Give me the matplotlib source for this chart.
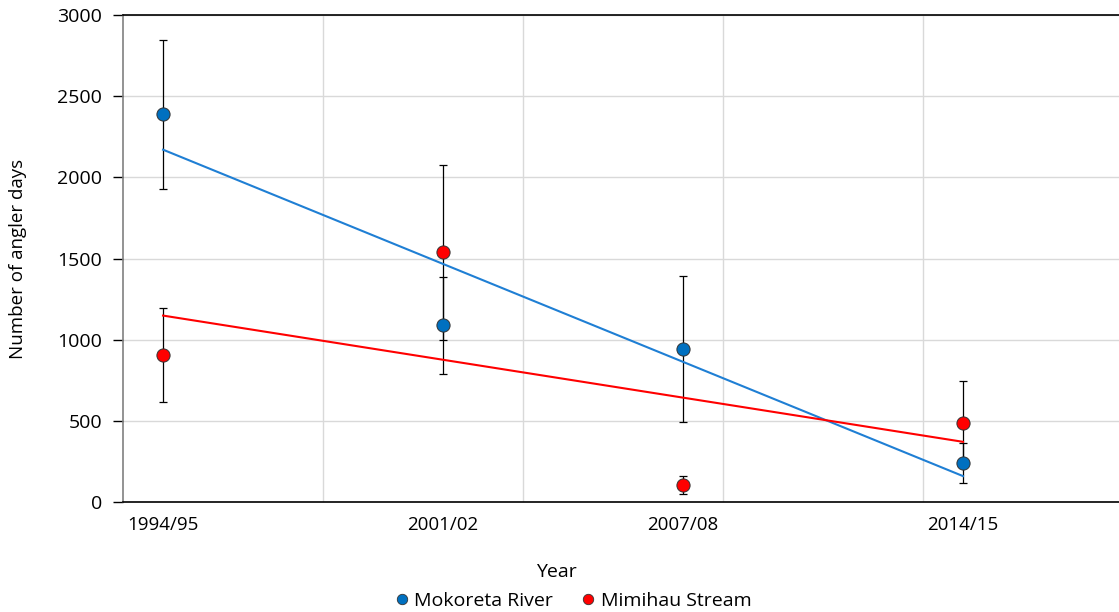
import numpy as np
import matplotlib
matplotlib.use('Agg')
import matplotlib.pyplot as plt
from matplotlib.lines import Line2D

years = [1994, 2001, 2007, 2014]
year_labels = ['1994/95', '2001/02', '2007/08', '2014/15']

mokoreta = [2390, 1088, 942, 240]
mokoreta_err = [460, 300, 450, 123]
mimihau = [905, 1540, 105, 487]
mimihau_err = [290, 540, 55, 260]

blue = '#0070C0'
red = '#FF0000'
narrow = ['Liberation Sans Narrow', 'Open Sans', 'DejaVu Sans']

fig = plt.figure(figsize=(11.19, 6.12), dpi=100)
ax = fig.add_axes([0.110, 0.180, 0.890, 0.795])

x = np.array(years)

# trend lines (least squares, like Excel's linear trendline)
for vals, col in [(mokoreta, '#1F7FD4'), (mimihau, red)]:
    k, b = np.polyfit(x, vals, 1)
    ax.plot(x[[0, -1]], k * x[[0, -1]] + b, color=col, lw=1.5, zorder=3)

for vals, err, col in [(mokoreta, mokoreta_err, blue), (mimihau, mimihau_err, red)]:
    ax.errorbar(x, vals, yerr=err, fmt='none', ecolor='black', elinewidth=0.9,
                capsize=3, capthick=0.9, zorder=2)
    ax.plot(x, vals, 'o', color=col, markersize=9.5, markeredgecolor='#333333',
            markeredgewidth=0.7, zorder=4)

ax.set_xlim(1993, 2017.9)
ax.set_ylim(0, 3000)
ax.set_yticks(range(0, 3001, 500))
ax.set_xticks(years)
ax.set_xticklabels(year_labels, fontsize=13.5, family=narrow)
ax.set_xticks([1998, 2003, 2008, 2013], minor=True)
ax.tick_params(axis='x', which='both', length=0, pad=10)
ax.tick_params(axis='y', length=7, width=1, color='black', labelsize=14, pad=8)
for t in ax.get_yticklabels():
    t.set_family(['Open Sans', 'DejaVu Sans'])

ax.grid(axis='y', color='#d9d9d9', lw=1)
ax.grid(axis='x', which='minor', color='#d9d9d9', lw=1)
ax.grid(axis='x', which='major', visible=False)
ax.set_axisbelow(True)

ax.spines['right'].set_visible(False)
ax.spines['top'].set_color('black')
ax.spines['top'].set_linewidth(1.2)
ax.spines['left'].set_color('#808080')
ax.spines['left'].set_linewidth(1.2)
ax.spines['bottom'].set_color('black')
ax.spines['bottom'].set_linewidth(1.2)

ax.set_ylabel('Number of angler days', fontsize=13.5, family=['Open Sans', 'DejaVu Sans'],
              labelpad=22)
fig.text(0.497, 0.065, 'Year', ha='center', va='center', fontsize=14, family=narrow)

handles = [Line2D([], [], ls='none', marker='o', color=blue, markeredgecolor='#333333',
                  markeredgewidth=0.6, markersize=7.5),
           Line2D([], [], ls='none', marker='o', color=red, markeredgecolor='#333333',
                  markeredgewidth=0.6, markersize=7.5)]
fig.legend(handles, ['Mokoreta River', 'Mimihau Stream'], loc='center',
           bbox_to_anchor=(0.51, 0.018), ncol=2, frameon=False,
           prop={'family': narrow, 'size': 14}, handletextpad=0.05,
           columnspacing=1.2, handlelength=1.2)

fig.savefig('out.png', dpi=100)
